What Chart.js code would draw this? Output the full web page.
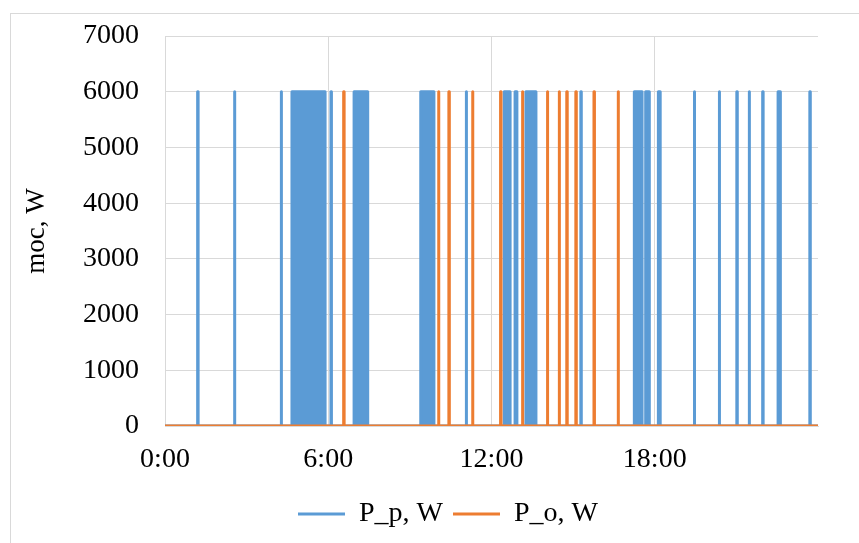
<!DOCTYPE html>
<html>
<head>
<meta charset="utf-8">
<script src="https://cdn.jsdelivr.net/npm/chart.js@4"></script>
<style>
  html, body { margin: 0; padding: 0; background: #fff; }
  #wrap { position: relative; width: 859px; height: 543px; overflow: hidden; }
  #frame { position: absolute; left: 10px; top: 13px; width: 900px; height: 600px; border: 1px solid #d9d9d9; }
  canvas { position: absolute; left: 0; top: 0; }
</style>
</head>
<body>
<div id="wrap">
  <div id="frame"></div>
  <canvas id="chart" width="859" height="543"></canvas>
</div>
<script>
// ── Data ──
const timeTickLabels = ['0:00', '6:00', '12:00', '18:00'];
const powerLevel = 6000;   // W, height of every switching pulse

// P_p: short pulses (about one minute) and longer on/off bursts
const pumpPulses = ['1:12', '2:33', '4:16', '6:06', '11:04', '15:17',
                    '19:27', '20:22', '21:01', '21:28', '21:58', '23:42'];
const pumpBursts = [
    ['4:40', '5:53'], ['6:57', '7:27'], ['9:24', '9:53'], ['12:28', '12:41'],
    ['12:52', '12:56'], ['13:16', '13:38'], ['17:15', '17:32'], ['17:40', '17:48'],
    ['18:08', '18:12'], ['22:32', '22:37'],
];

// P_o: short pulses only
const otherPulses = ['6:34', '10:03', '10:26', '11:18', '12:20', '13:08',
                     '14:03', '14:29', '14:46', '15:06', '15:46', '16:39'];

const FONT = "'Liberation Serif', 'Times New Roman', serif";
const BLUE = '#5b9bd5';
const ORANGE = '#ed7d31';
const GRID = '#d9d9d9';
const LEGEND_DX = 39;

// ── Helpers ──
function toMin(t) {
    const [h, m] = t.split(':');
    return Number(h) * 60 + Number(m);
}

function buildSeries(pulses, bursts, level) {
    const spans = pulses.map(t => [toMin(t), toMin(t) + 1])
        .concat(bursts.map(([a, b]) => [toMin(a), toMin(b)]))
        .sort((a, b) => a[0] - b[0]);
    const pts = [{x: 0, y: 0}];
    spans.forEach(([a, b]) => {
        pts.push({x: a, y: 0}, {x: a, y: level}, {x: b, y: level}, {x: b, y: 0});
    });
    pts.push({x: 1440, y: 0});
    return pts;
}

const shiftLegend = {
    id: 'shiftLegend',
    afterLayout(chart) {
        const l = chart.legend;
        if (l) { l.left += LEGEND_DX; l.right += LEGEND_DX; }
    }
};

// ── Chart ──
new Chart(document.getElementById('chart').getContext('2d'), {
    type: 'line',
    data: {
        datasets: [{
            label: 'P_p, W',
            data: buildSeries(pumpPulses, pumpBursts, powerLevel),
            borderColor: BLUE,
            backgroundColor: BLUE,
            borderWidth: 3,
            borderJoinStyle: 'round',
            borderCapStyle: 'round',
            pointRadius: 0,
            tension: 0,
            fill: 'origin',
            order: 1,
        }, {
            label: 'P_o, W',
            data: buildSeries(otherPulses, [], powerLevel),
            borderColor: ORANGE,
            backgroundColor: ORANGE,
            borderWidth: 3,
            borderJoinStyle: 'round',
            borderCapStyle: 'round',
            pointRadius: 0,
            tension: 0,
            fill: false,
            order: 0,
        }]
    },
    options: {
        responsive: false,
        animation: false,
        events: [],
        layout: { padding: { left: 0, right: 41, top: 36, bottom: 5 } },
        scales: {
            x: {
                type: 'linear',
                min: 0,
                max: 1440,
                grid: {
                    color: c => (c.tick && c.tick.value === 1440) ? 'rgba(0,0,0,0)' : GRID,
                    drawTicks: false,
                },
                border: { color: GRID },
                ticks: {
                    stepSize: 360,
                    autoSkip: false,
                    maxRotation: 0,
                    padding: 17,
                    color: '#000',
                    font: { family: FONT, size: 28 },
                    callback: (v, i) => timeTickLabels[i] ?? '',
                },
                afterFit: s => { s.height = 64; },
            },
            y: {
                min: 0,
                max: 7000,
                grid: { color: GRID, drawTicks: false },
                border: { color: GRID },
                ticks: {
                    stepSize: 1000,
                    padding: 26,
                    color: '#000',
                    font: { family: FONT, size: 28 },
                    callback: v => String(v),
                },
                title: {
                    display: true,
                    text: 'moc, W',
                    color: '#000',
                    font: { family: FONT, size: 27 },
                    padding: { top: 21, bottom: 0 },
                },
                afterFit: s => { s.width = 165; s.paddingTop = 0; s.paddingBottom = 0; },
            }
        },
        plugins: {
            legend: {
                position: 'bottom',
                labels: {
                    usePointStyle: true,
                    pointStyle: 'line',
                    pointStyleWidth: 47,
                    padding: 10,
                    color: '#000',
                    font: { family: FONT, size: 28 },
                    sort: (a, b) => a.datasetIndex - b.datasetIndex,
                }
            },
            tooltip: { enabled: false },
        }
    },
    plugins: [shiftLegend]
});
</script>
</body>
</html>
